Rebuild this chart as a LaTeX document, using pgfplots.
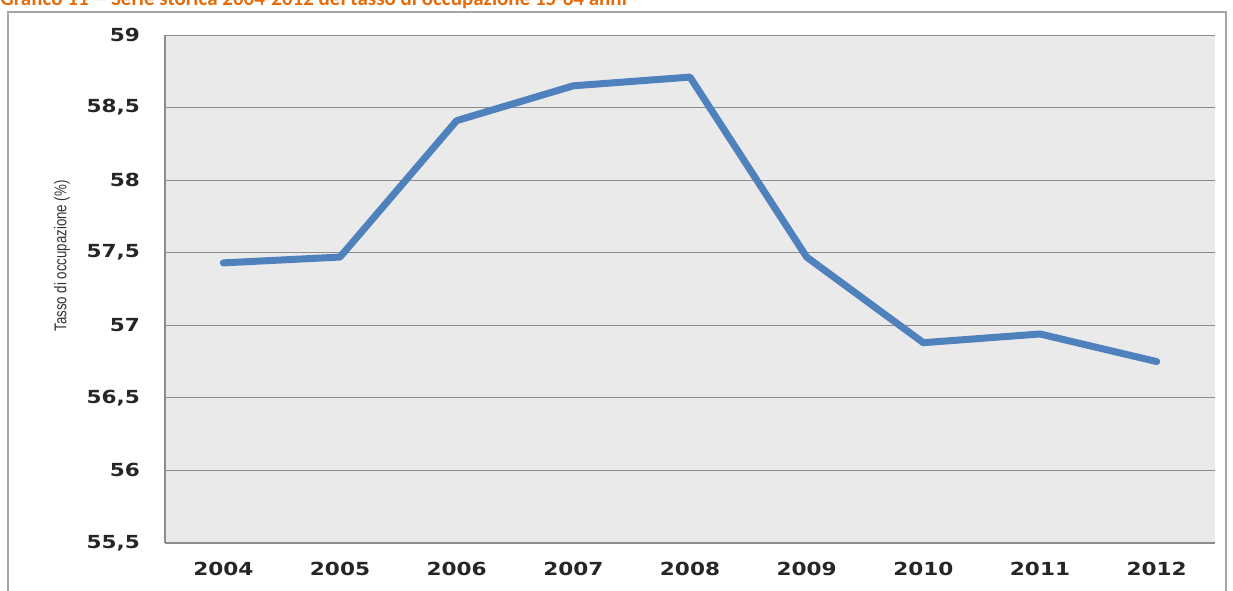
\documentclass[border=0pt]{standalone}
\usepackage{pgfplots}
\pgfplotsset{compat=1.18}
\usepackage{fontspec}
\setmainfont{DejaVu Sans}
\newfontfamily\tickfont[FakeStretch=1.2]{DejaVu Sans}
\newfontfamily\labfont[FakeStretch=0.78]{Liberation Sans}
\newfontfamily\titlefont{Carlito}
\definecolor{lineblue}{HTML}{4F81BD}
\definecolor{plotbg}{HTML}{EAEAEA}
\definecolor{gridgray}{HTML}{8C8C8C}
\definecolor{framegray}{HTML}{A6A6A6}
\definecolor{titleorange}{HTML}{E46C0A}
\begin{document}
\begin{tikzpicture}
\path[use as bounding box, clip] (-82.5pt,-23.5pt) rectangle (534pt,271.5pt);
% outer frame
\draw[framegray, line width=0.6pt] (-78.5pt,-40pt) -- (-78.5pt,265.5pt) -- (530.5pt,265.5pt) -- (530.5pt,-40pt);
% title (cut by the page edge, as in the source)
\node[anchor=base west, inner sep=0pt, text=titleorange, font=\titlefont\bfseries\fontsize{10.5pt}{12pt}\selectfont]
  at (-82.5pt,268.5pt) {Grafico 11 -- Serie storica 2004-2012 del tasso di occupazione 15-64 anni};
\begin{axis}[
    scale only axis,
    width=525pt,
    height=254pt,
    xmin=-0.5, xmax=8.5,
    ymin=55.5, ymax=59,
    xtick={0,...,8},
    xticklabels={2004,2005,2006,2007,2008,2009,2010,2011,2012},
    ytick={55.5,56,56.5,57,57.5,58,58.5,59},
    /pgf/number format/use comma,
    /pgf/number format/assume math mode=true,
    ymajorgrids,
    grid style={gridgray, line width=0.5pt},
    axis background/.style={fill=plotbg},
    axis x line*=bottom,
    axis y line*=left,
    axis line style={gridgray, line width=0.6pt},
    major tick length=0pt,
    tick style={draw=none},
    ticklabel style={font=\tickfont\bfseries\fontsize{9pt}{10pt}\selectfont, text=black!85},
    yticklabel style={xshift=-9pt},
    xticklabel style={yshift=-6pt},
    ylabel={Tasso di occupazione (\%)},
    ylabel style={at={(axis description cs:-0.098,0.565)}, anchor=center, rotate=0,
                  text=black!80, font=\labfont\fontsize{8.5pt}{10pt}\selectfont},
]
\addplot[lineblue, line width=3.5pt, line join=round, line cap=round] coordinates {
    (0,57.43) (1,57.47) (2,58.41) (3,58.65) (4,58.71)
    (5,57.47) (6,56.88) (7,56.94) (8,56.75)
};
\end{axis}
\end{tikzpicture}
\end{document}
